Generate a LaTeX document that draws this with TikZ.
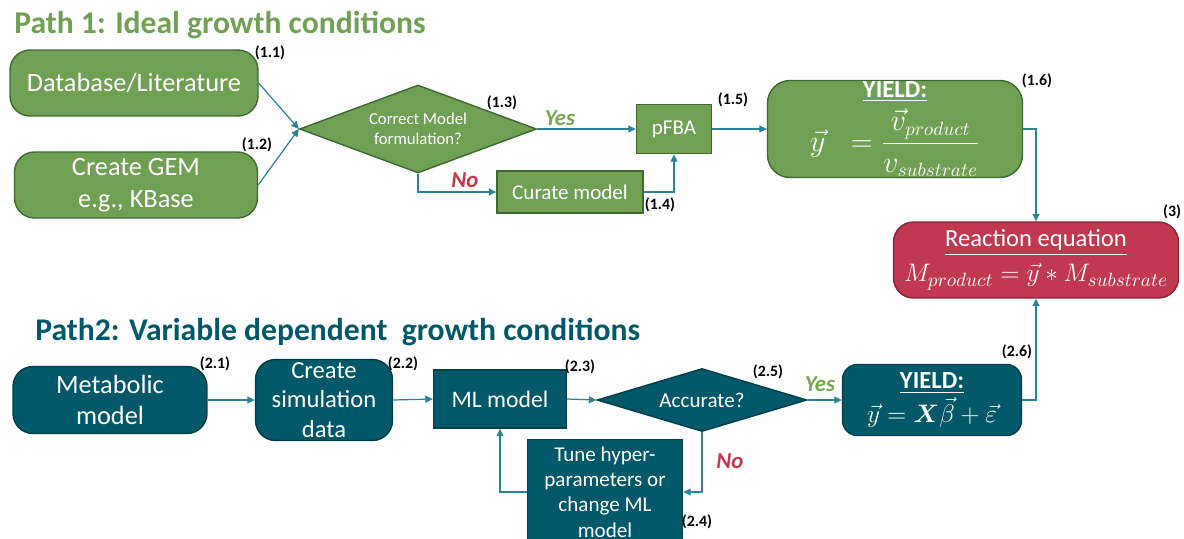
\documentclass[tikz,border=0pt]{standalone}
\usepackage{amssymb, amsmath}
\usepackage{fontspec}
\setmainfont{Carlito}
\usetikzlibrary{shapes.geometric, arrows.meta}

\definecolor{pgreen}{RGB}{112,160,84}
\definecolor{pgreenD}{RGB}{62,104,48}
\definecolor{pteal}{RGB}{0,88,104}
\definecolor{ptealD}{RGB}{0,62,74}
\definecolor{pred}{RGB}{192,57,80}
\definecolor{predD}{RGB}{140,34,54}
\definecolor{pline}{RGB}{40,132,150}
\definecolor{yesgreen}{RGB}{118,168,80}
\definecolor{nored}{RGB}{200,52,74}

\begin{document}
\begin{tikzpicture}[x=0.02cm, y=-0.02cm,
    gbox/.style={draw=pgreenD, fill=pgreen, text=white, line width=0.8pt, align=center, inner sep=0pt},
    tbox/.style={draw=ptealD, fill=pteal, text=white, line width=0.8pt, align=center, inner sep=0pt},
    conn/.style={draw=pline, line width=0.7pt, -{Triangle[length=1.5mm, width=1.4mm]}},
    num/.style={font=\bfseries\fontsize{9}{10}\selectfont, inner sep=0pt},
    yes/.style={text=yesgreen, font=\bfseries\itshape\fontsize{13}{14}\selectfont},
    no/.style={text=nored, font=\bfseries\itshape\fontsize{13}{14}\selectfont}]
    \clip (0,0) rectangle (1184,538);

    % Path 1
    \node[anchor=base west, text=pgreen, font=\bfseries\fontsize{18}{22}\selectfont, inner sep=0pt] (title1) at (14,33) {Path 1: Ideal growth conditions};

    \node[gbox, rounded corners=0.4cm, minimum width=4.96cm, minimum height=1.32cm, font=\fontsize{15}{18}\selectfont] (db) at (134,83) {Database/Literature};
    \node[gbox, rounded corners=0.4cm, minimum width=4.86cm, minimum height=1.32cm, font=\fontsize{15}{18}\selectfont] (gem) at (136,185) {Create GEM\\e.g., KBase};
    \node[gbox, diamond, shape aspect=2.7, minimum width=4.74cm, minimum height=1.76cm, font=\fontsize{9.5}{11.5}\selectfont] (d1) at (418,129) {Correct Model\\formulation?};
    \node[gbox, minimum width=1.5cm, minimum height=0.98cm, font=\fontsize{12}{14}\selectfont] (pfba) at (674,129) {pFBA};
    \node[gbox, minimum width=2.92cm, minimum height=0.84cm, font=\fontsize{12}{14}\selectfont] (cur) at (570,192) {Curate model};
    \node[gbox, rounded corners=0.45cm, minimum width=5.1cm, minimum height=1.94cm, font=\fontsize{14}{16}\selectfont] (y1) at (895,129)
        {\textbf{\underline{YIELD:}}\\[3pt]{\fontsize{16}{18}\selectfont$\displaystyle \vec{y}\;\;= \frac{\vec{v}_{product}}{v_{substrate}}$}};

    % Reaction equation
    \node[draw=predD, fill=pred, text=white, line width=0.8pt, align=center, inner sep=0pt, rounded corners=0.4cm,
        minimum width=5.7cm, minimum height=1.52cm, font=\fontsize{14}{20}\selectfont] (rx) at (1036,260)
        {\underline{Reaction equation}\\{\fontsize{15}{18}\selectfont$M_{product} = \vec{y} * M_{substrate}$}};

    \draw[conn] (db.east) -- (d1.west);
    \draw[conn] (gem.east) -- (d1.west);
    \draw[conn] (d1.east) -- (pfba.west);
    \draw[conn] (d1.south) |- (cur.west);
    \draw[conn] (cur.east) -| (pfba.south);
    \draw[conn] (pfba.east) -- (y1.west);
    \draw[conn] (y1.east) -| (rx.north);

    \node[yes] (yes1) at (560,118) {Yes};
    \node[no] (no1) at (465,180) {No};

    \node[num] (n11) at (270,53) {(1.1)};
    \node[num] (n12) at (257,145) {(1.2)};
    \node[num] (n13) at (502,103) {(1.3)};
    \node[num] (n14) at (660,205) {(1.4)};
    \node[num] (n15) at (733,100) {(1.5)};
    \node[num] (n16) at (1037,81) {(1.6)};
    \node[num] (n3) at (1172,212) {(3)};

    % Path 2
    \node[anchor=base west, text=pteal, font=\bfseries\fontsize{18}{22}\selectfont, inner sep=0pt] (title2) at (35,340) {Path2: Variable dependent \ growth conditions};

    \node[tbox, rounded corners=0.4cm, minimum width=3.88cm, minimum height=1.34cm, font=\fontsize{15}{18}\selectfont] (meta) at (110,400) {Metabolic\\model};
    \node[tbox, rounded corners=0.4cm, minimum width=2.74cm, minimum height=1.62cm, font=\fontsize{14}{17}\selectfont] (sim) at (324,400) {Create\\simulation\\data};
    \node[tbox, minimum width=2.66cm, minimum height=1.16cm, font=\fontsize{13.5}{16}\selectfont] (ml) at (500,399) {ML model};
    \node[tbox, diamond, shape aspect=3.3, minimum width=4.2cm, minimum height=1.26cm, font=\fontsize{12}{14}\selectfont] (d2) at (702,400) {Accurate?};
    \node[tbox, rounded corners=0.3cm, minimum width=3.58cm, minimum height=1.42cm, font=\fontsize{14}{16}\selectfont] (y2) at (932,400)
        {\textbf{\underline{YIELD:}}\\[1pt]{\fontsize{15}{17}\selectfont$\vec{y} = \boldsymbol{X}\vec{\beta} + \vec{\varepsilon}$}};
    \node[tbox, minimum width=3.1cm, minimum height=2.1cm, font=\fontsize{12}{14.5}\selectfont] (tune) at (605,492) {Tune hyper-\\parameters or\\change ML\\model};

    \draw[conn] (meta.east) -- (sim.west);
    \draw[conn] (sim.east) -- (ml.west);
    \draw[conn] (ml.east) -- (d2.west);
    \draw[conn] (d2.east) -- (y2.west);
    \draw[conn] (d2.south) |- (tune.east);
    \draw[conn] (tune.west) -| (ml.south);
    \draw[conn] (y2.east) -| (rx.south);

    \node[yes] (yes2) at (820,384) {Yes};
    \node[no] (no2) at (730,461) {No};

    \node[num] (n21) at (215,364) {(2.1)};
    \node[num] (n22) at (403,364) {(2.2)};
    \node[num] (n23) at (580,367) {(2.3)};
    \node[num] (n24) at (697,522) {(2.4)};
    \node[num] (n25) at (768,372) {(2.5)};
    \node[num] (n26) at (1017,352) {(2.6)};
\end{tikzpicture}
\end{document}
